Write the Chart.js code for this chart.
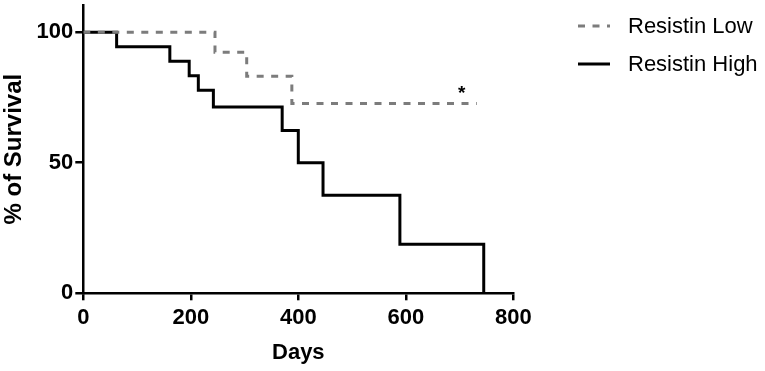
<!DOCTYPE html>
<html>
<head>
<meta charset="utf-8">
<script src="https://cdn.jsdelivr.net/npm/chart.js@4/dist/chart.umd.min.js"></script>
<style>
html,body{margin:0;padding:0;background:#fff;}
#wrap{position:relative;width:765px;height:371px;}
</style>
</head>
<body>
<div id="wrap"><canvas id="c" width="765" height="371"></canvas></div>
<script>
// ---- data ----
const seriesNames = ["Resistin Low", "Resistin High"];
const lowDays = [0, 245, 304, 388, 732];
const lowSurvival = [100, 92.3, 83.1, 72.7, 72.7];
const highDays = [0, 62, 161, 197, 214, 242, 370, 400, 446, 589, 745];
const highSurvival = [100, 94.4, 88.9, 83.3, 77.8, 71.3, 62.3, 50.0, 37.5, 18.75, 0];
const xTicks = [0, 200, 400, 600, 800];
const yTicks = [0, 50, 100];
const xTitle = "Days";
const yTitle = "% of Survival";
const significance = {day: 704, value: 76.5, label: "*"};

const FONT = "'Liberation Sans', Arial, sans-serif";
const toXY = (xs, ys) => xs.map((x, i) => ({x: x, y: ys[i]}));

const extras = {
  id: 'extras',
  afterDraw(chart) {
    const ctx = chart.ctx;
    const xs = chart.scales.x, ys = chart.scales.y;
    // significance marker
    ctx.save();
    ctx.fillStyle = '#000';
    ctx.font = "bold 19px " + FONT;
    ctx.textAlign = 'center';
    ctx.textBaseline = 'middle';
    ctx.fillText(significance.label, xs.getPixelForValue(significance.day), ys.getPixelForValue(significance.value));
    ctx.restore();
    // legend
    const items = chart.data.datasets;
    const ly = [26, 64];
    items.forEach((ds, i) => {
      ctx.save();
      ctx.strokeStyle = ds.borderColor;
      ctx.lineWidth = ds.borderWidth;
      ctx.setLineDash(ds.borderDash || []);
      ctx.beginPath();
      ctx.moveTo(578, ly[i]);
      ctx.lineTo(610, ly[i]);
      ctx.stroke();
      ctx.setLineDash([]);
      ctx.fillStyle = '#000';
      ctx.font = "22px " + FONT;
      ctx.textAlign = 'left';
      ctx.textBaseline = 'middle';
      ctx.fillText(ds.label, 628, ly[i] + 1);
      ctx.restore();
    });
  }
};

new Chart(document.getElementById('c'), {
  type: 'line',
  data: {
    datasets: [
      {label: seriesNames[0], data: toXY(lowDays, lowSurvival), stepped: 'before',
       borderColor: '#7c7c7c', borderWidth: 3, borderDash: [7, 7.5], pointRadius: 0, fill: false},
      {label: seriesNames[1], data: toXY(highDays, highSurvival), stepped: 'before',
       borderColor: '#000000', borderWidth: 3, pointRadius: 0, fill: false}
    ]
  },
  options: {
    responsive: false,
    animation: false,
    events: [],
    layout: {padding: {left: 0, right: 251.7, top: 5, bottom: 0}},
    plugins: {legend: {display: false}, tooltip: {enabled: false}},
    scales: {
      x: {
        type: 'linear', min: 0, max: 800,
        afterBuildTicks: s => { s.ticks = xTicks.map(v => ({value: v})); },
        afterFit: s => { s.height = 371 - 293.3; s.paddingLeft = 0; s.paddingRight = 0; },
        grid: {display: true, drawOnChartArea: false, drawTicks: true, tickLength: 7, color: '#000', lineWidth: 2.5},
        border: {display: true, color: '#000', width: 2.5},
        ticks: {color: '#000', font: {family: FONT, size: 22, weight: 'bold'}, padding: 4, maxRotation: 0},
        title: {display: true, text: xTitle, color: '#000', font: {family: FONT, size: 22, weight: 'bold'}, padding: {top: 0, bottom: 5}}
      },
      y: {
        type: 'linear', min: 0, max: 110.4,
        afterBuildTicks: s => { s.ticks = yTicks.map(v => ({value: v})); },
        afterFit: s => { s.width = 83.3; s.paddingTop = 0; s.paddingBottom = 0; },
        grid: {display: true, drawOnChartArea: false, drawTicks: true, tickLength: 8, color: '#000', lineWidth: 2.5},
        border: {display: true, color: '#000', width: 2.5},
        ticks: {color: '#000', font: {family: FONT, size: 22, weight: 'bold'}, padding: 2},
        title: {display: true, text: yTitle, color: '#000', font: {family: FONT, size: 24, weight: 'bold', lineHeight: 1.2}, padding: {top: 0, bottom: 0}}
      }
    }
  },
  plugins: [extras]
});
</script>
</body>
</html>
